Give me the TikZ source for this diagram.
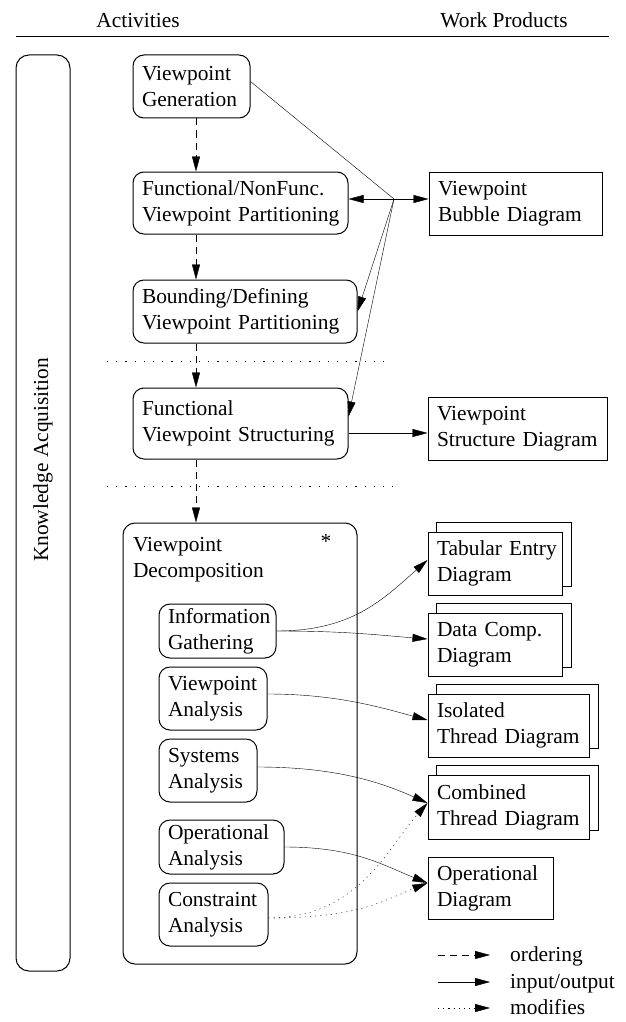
\documentclass[tikz,border=0pt]{standalone}
\usepackage{fontspec}
\setmainfont{Liberation Serif}
\usetikzlibrary{arrows.meta,backgrounds}
\hyphenpenalty=10000
\exhyphenpenalty=10000
\begin{document}
\begin{tikzpicture}[x=1pt,y=1pt, line width=1pt, font=\fontsize{21.4}{26}\selectfont,
  rbox/.style={draw, rounded corners=11pt, align=left, inner xsep=9pt, inner ysep=0pt},
  wbox/.style={draw, fill=white, align=left, inner xsep=9pt, inner ysep=0pt},
  tip/.style={-{Triangle[length=15pt,width=8pt]}},
  io/.style={tip},
  ord/.style={tip, dash pattern=on 7pt off 5pt},
  mod/.style={tip, dash pattern=on 1.2pt off 4pt},
  sep/.style={dash pattern=on 1.2pt off 8pt},
  lbl/.style={inner sep=0pt}]
\useasboundingbox (0,0) rectangle (626,-1022);

% header
\node[lbl] (act) at (138,-20.5) {Activities};
\node[lbl] (wp) at (504,-20.5) {Work Products};
\coordinate (hl1) at (16,-37);
\coordinate (hl2) at (609,-37);
\draw (hl1) -- (hl2);

% knowledge acquisition
\node[draw, rounded corners=13pt, minimum width=54pt, minimum height=916pt, inner sep=0pt] (ka) at (43,-513) {};
\node[lbl, rotate=90] (kat) at (43,-460) {Knowledge Acquisition};

% activities
\node[rbox, minimum width=117pt, minimum height=63pt, text width=99pt] (vg) at (191.5,-86.5) {Viewpoint\\Generation};
\node[rbox, minimum width=215pt, minimum height=62pt, text width=197pt] (fnf) at (240.5,-203) {Functional/NonFunc.\\Viewpoint~Partitioning};
\node[rbox, minimum width=224pt, minimum height=63pt, text width=206pt] (bdv) at (245,-311.5) {Bounding/Defining\\Viewpoint~Partitioning};
\node[rbox, minimum width=215pt, minimum height=71pt, text width=197pt] (fvs) at (240.5,-423.5) {Functional\\Viewpoint~Structuring};

\node[draw, rounded corners=12pt, minimum width=234pt, minimum height=441pt, inner sep=0pt] (vd) at (240,-743.5) {};
\node[lbl, anchor=north west, align=left] (vdt) at (132.5,-536.5) {Viewpoint\\Decomposition};
\node[lbl] (star) at (326,-541) {*};

\node[rbox, minimum width=117pt, minimum height=54pt, text width=99pt] (ig) at (217.5,-631) {Information\\Gathering};
\node[rbox, minimum width=108pt, minimum height=63pt, text width=90pt] (va) at (213,-698.5) {Viewpoint\\Analysis};
\node[rbox, minimum width=98pt, minimum height=63pt, text width=80pt] (sys) at (208,-770.5) {Systems\\Analysis};
\node[rbox, minimum width=125pt, minimum height=54pt, text width=107pt] (opa) at (221.5,-847) {Operational\\Analysis};
\node[rbox, minimum width=109pt, minimum height=63pt, text width=91pt] (con) at (213.5,-914.5) {Constraint\\Analysis};

% work products
\node[wbox, minimum width=173pt, minimum height=63pt, text width=155pt] (bub) at (515.5,-203.5) {Viewpoint\\Bubble~Diagram};
\node[wbox, minimum width=179pt, minimum height=63pt, text width=161pt] (vsd) at (517.5,-428.5) {Viewpoint\\Structure~Diagram};
\node[wbox, minimum width=134pt, minimum height=63pt, text width=116pt] (tab) at (495,-563.5) {Tabular~Entry\\Diagram};
\node[wbox, minimum width=134pt, minimum height=63pt, text width=116pt] (dc) at (495,-644.5) {Data~Comp.\\Diagram};
\node[wbox, minimum width=161pt, minimum height=63pt, text width=143pt] (iso) at (508.5,-725.5) {Isolated\\Thread~Diagram};
\node[wbox, minimum width=161pt, minimum height=64pt, text width=143pt] (com) at (508.5,-807) {Combined\\Thread~Diagram};
\node[wbox, minimum width=125pt, minimum height=62pt, text width=107pt] (od) at (490.5,-888) {Operational\\Diagram};

\begin{pgfonlayer}{background}
  \foreach \n in {tab,dc,iso,com}
    \draw ([shift={(9,9)}]\n.south west) rectangle ([shift={(9,9)}]\n.north east);
\end{pgfonlayer}

% separators
\coordinate (s1a) at (107,-360.7);
\coordinate (s1b) at (388,-360.7);
\coordinate (s2a) at (107,-486);
\coordinate (s2b) at (395,-486);
\draw[sep] (s1a) -- (s1b);
\draw[sep] (s2a) -- (s2b);

% ordering
\coordinate (ox) at (196,0);
\draw[ord] (vg.south -| ox) -- (fnf.north -| ox);
\draw[ord] (fnf.south -| ox) -- (bdv.north -| ox);
\draw[ord] (bdv.south -| ox) -- (fvs.north -| ox);
\draw[ord] (fvs.south -| ox) -- (vd.north -| ox);

% input/output, top
\coordinate (j) at (394,-199);
\draw ([yshift=5pt]vg.east) -- (j);
\draw[io] (j) -- (j -| fnf.east);
\draw[io] (j) -- (j -| bub.west);
\draw[io] (j) -- (bdv.east);
\draw[io] (j) -- ([yshift=7pt]fvs.east);
\draw[io] ([yshift=-9.5pt]fvs.east) coordinate (fo) -- (fo -| vsd.west);

% input/output, decomposition
\draw[io] (ig.east) .. controls +(75,0) and +(-45,-40) .. ([yshift=3.5pt]tab.west);
\draw[io] (ig.east) .. controls +(70,0) and +(-50,4) .. ([yshift=5.5pt]dc.west);
\draw[io] ([yshift=4.5pt]va.east) .. controls +(70,0) and +(-45,12) .. ([yshift=5.5pt]iso.west);
\draw[io] ([yshift=3.5pt]sys.east) .. controls +(80,0) and +(-45,20) .. ([yshift=4pt]com.west);
\draw[io] (opa.east) .. controls +(70,0) and +(-45,18) .. ([yshift=5pt]od.west);
\draw[mod] ([yshift=-3.5pt]con.east) .. controls +(90,0) and +(-40,-45) .. ([yshift=4pt]com.west);
\draw[mod] ([yshift=-3.5pt]con.east) .. controls +(90,0) and +(-45,-18) .. ([yshift=5pt]od.west);

% legend
\coordinate (l1a) at (438,-955); \coordinate (l1b) at (490,-955);
\coordinate (l2a) at (438,-982); \coordinate (l2b) at (490,-982);
\coordinate (l3a) at (438,-1008); \coordinate (l3b) at (490,-1008);
\draw[ord] (l1a) -- (l1b);
\draw[io] (l2a) -- (l2b);
\draw[mod] (l3a) -- (l3b);
\node[lbl, anchor=base west] (lo) at (510,-961) {ordering};
\node[lbl, anchor=base west] (li) at (510,-988) {input/output};
\node[lbl, anchor=base west] (lm) at (510,-1014) {modifies};
\end{tikzpicture}
\end{document}
